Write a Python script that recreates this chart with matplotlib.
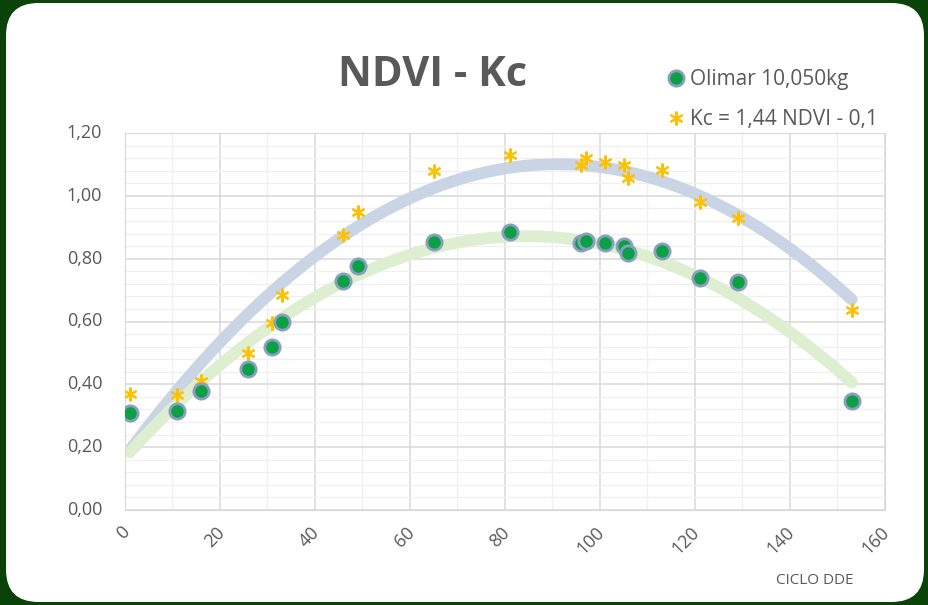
import matplotlib
matplotlib.use("Agg")
import matplotlib.pyplot as plt
from matplotlib.patches import FancyBboxPatch
from matplotlib.ticker import MultipleLocator
import numpy as np

# data
dde = [1, 11, 16, 26, 31, 33, 46, 49, 65, 81, 96, 97, 101, 105, 106, 113, 121, 129, 153]
ndvi = [0.31, 0.315, 0.38, 0.45, 0.52, 0.60, 0.73, 0.776, 0.853, 0.885, 0.85, 0.856,
        0.85, 0.84, 0.818, 0.824, 0.738, 0.726, 0.347]
kc = [0.37, 0.366, 0.41, 0.50, 0.595, 0.684, 0.875, 0.948, 1.079, 1.13, 1.098, 1.12,
      1.108, 1.098, 1.057, 1.082, 0.98, 0.929, 0.637]

xticks = [0, 20, 40, 60, 80, 100, 120, 140, 160]
yticks = [0, 0.2, 0.4, 0.6, 0.8, 1.0, 1.2]
ndvi_label = "Olimar 10,050kg"
kc_label = "Kc = 1,44 NDVI - 0,1"

text_gray = "#595959"
plt.rcParams["font.family"] = ["Open Sans", "DejaVu Sans"]

fig = plt.figure(figsize=(9.29, 6.05), dpi=100)
fig.patch.set_facecolor("#0A430A")
panel = FancyBboxPatch((6 / 929, 3 / 605), 918 / 929, 599 / 605,
                       boxstyle="round,pad=0,rounding_size=0.035",
                       transform=fig.transFigure, facecolor="white",
                       edgecolor="none", mutation_aspect=929 / 605, zorder=-5)
fig.patches.append(panel)

ax = fig.add_axes([125 / 929, 95 / 605, 760 / 929, 377 / 605])
ax.set_facecolor("white")

# polynomial trendlines (order 2), like the spreadsheet ones
xs = np.linspace(min(dde), max(dde), 200)
kc_fit = np.polyval(np.polyfit(dde, kc, 2), xs)
ndvi_fit = np.polyval(np.polyfit(dde, ndvi, 2), xs)
ax.plot(xs, kc_fit, color="#C9D5E4", lw=8.5, solid_capstyle="round", zorder=2)
ax.plot(xs, ndvi_fit, color="#DDEFD0", lw=8.5, solid_capstyle="round", zorder=2)

ax.plot(dde, ndvi, linestyle="none", marker="o", markersize=11,
        markerfacecolor="#0BA044", markeredgecolor="#8A9EC0",
        markeredgewidth=2.0, zorder=4, label=ndvi_label)
ax.plot(dde, kc, linestyle="none", marker=(6, 2, 0), markersize=10,
        markeredgecolor="#FFC000", markeredgewidth=1.5, color="#FFC000",
        zorder=3, label=kc_label)

ax.set_xlim(0, 160)
ax.set_ylim(0, 1.2)
ax.set_xticks(xticks)
ax.set_yticks(yticks)
ax.xaxis.set_minor_locator(MultipleLocator(10))
ax.yaxis.set_minor_locator(MultipleLocator(0.04))
ax.grid(True, which="major", color="#D9D9D9", lw=1.1, zorder=0)
ax.grid(True, which="minor", color="#F0F0F0", lw=1.0, zorder=0)
ax.set_axisbelow(True)
for s in ax.spines.values():
    s.set_color("#D9D9D9")
ax.tick_params(which="both", length=0)

# tick labels drawn as text so size and offset match the spreadsheet look
ax.set_xticklabels([])
ax.set_yticklabels([])
for v in yticks:
    ax.text(-0.03, v, f"{v:.2f}".replace(".", ","), transform=ax.get_yaxis_transform(),
            ha="right", va="center", fontsize=13, color=text_gray)
for v in xticks:
    ax.text(v - 1, -0.035, str(v), transform=ax.get_xaxis_transform(),
            ha="right", va="top", rotation=45, rotation_mode="anchor",
            fontsize=13, color=text_gray)

fig.text(433 / 929, 1 - 75 / 605, "NDVI - Kc", ha="center", va="center",
         fontsize=30, fontweight="bold", color=text_gray)
fig.text(815 / 929, 1 - 580 / 605, "CICLO DDE", ha="center", va="center",
         fontsize=11, color=text_gray)

ax.legend(loc="upper left", bbox_to_anchor=(655 / 929, 1 - 61 / 605),
          bbox_transform=fig.transFigure, frameon=False, fontsize=15,
          labelcolor=text_gray, handletextpad=0.1, handlelength=1.2,
          labelspacing=0.9, borderaxespad=0)

fig.savefig("out.png", dpi=100, facecolor=fig.get_facecolor())
